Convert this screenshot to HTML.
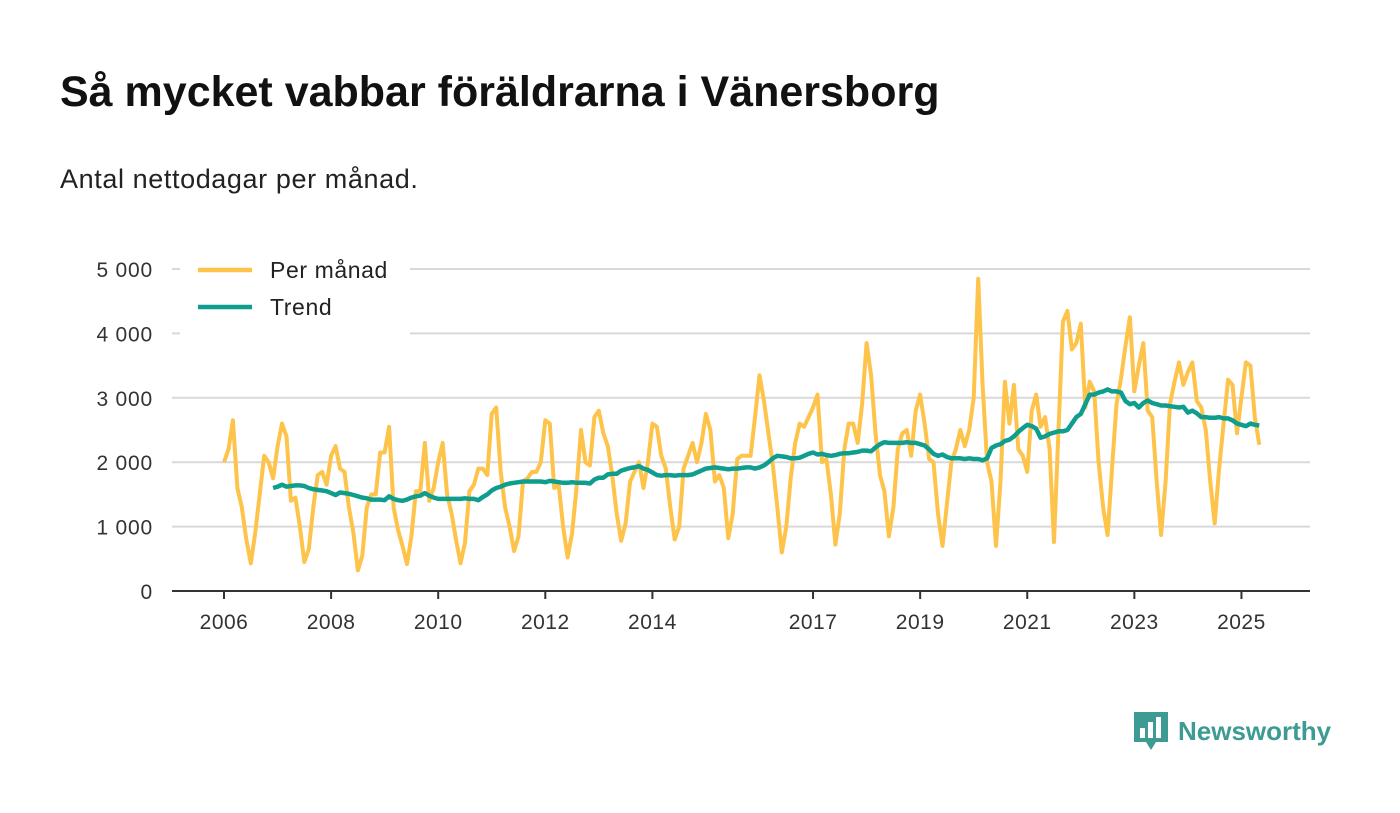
<!DOCTYPE html>
<html><head><meta charset="utf-8"><style>
body{margin:0;background:#fff;font-family:"Liberation Sans",sans-serif;}
#wrap{position:relative;width:1400px;height:813px;overflow:hidden}
h1{position:absolute;left:60px;top:68px;margin:0;font-size:43px;font-weight:bold;color:#111;}
.sub{position:absolute;left:60px;top:164px;font-size:27px;letter-spacing:0.6px;color:#222;}
.logo{position:absolute;left:1134px;top:712px;font-size:26px;font-weight:bold;color:#3d9b94;display:flex;align-items:center;gap:10px}
</style></head><body><div id="wrap">
<h1>Så mycket vabbar föräldrarna i Vänersborg</h1>
<div class="sub">Antal nettodagar per månad.</div>
<svg id="chart" width="1400" height="813" style="position:absolute;left:0;top:0"></svg>
<div class="logo"><svg width="34" height="38" viewBox="0 0 34 38"><path d="M0 0H34V30H22L17 38L12 30H0Z" fill="#3d9b94"/><rect x="6" y="16" width="5" height="10" fill="#fff"/><rect x="14" y="10" width="5" height="16" fill="#fff"/><rect x="22" y="5" width="5" height="21" fill="#fff"/></svg><span>Newsworthy</span></div>
</div>
<script>
const yTicks=[0,1000,2000,3000,4000,5000];
const yTickLabels=["0","1 000","2 000","3 000","4 000","5 000"];
const xTickYears=[2006,2008,2010,2012,2014,2017,2019,2021,2023,2025];
const startYear=2006;
const monthly=[
2000,2200,2650,1600,1300,800,430,900,1500,2100,2000,1750,
2250,2600,2400,1400,1450,1000,450,650,1300,1800,1850,1650,
2100,2250,1900,1850,1300,900,320,550,1300,1500,1500,2150,
2150,2550,1300,950,700,420,850,1550,1550,2300,1400,1600,
2000,2300,1500,1200,800,430,750,1550,1650,1900,1900,1800,
2750,2850,1850,1300,1000,620,850,1700,1750,1850,1850,2000,
2650,2600,1600,1650,1000,520,900,1600,2500,2000,1950,2700,
2800,2450,2250,1800,1200,780,1050,1700,1850,2000,1600,2000,
2600,2550,2100,1900,1300,800,1000,1900,2100,2300,2000,2300,
2750,2500,1700,1800,1600,820,1200,2050,2100,2100,2100,2700,
3350,2950,2450,1950,1300,600,1000,1750,2300,2600,2550,2700,
2850,3050,2000,2050,1500,720,1200,2200,2600,2600,2300,2900,
3850,3350,2450,1800,1550,850,1300,2200,2450,2500,2100,2800,
3050,2600,2050,2000,1200,700,1350,2000,2200,2500,2250,2500,
3000,4850,3200,2000,1700,700,1700,3250,2600,3200,2200,2100,
1850,2800,3050,2550,2700,2200,760,2500,4180,4350,3750,3850,
4150,2850,3250,3100,2000,1300,870,1900,2900,3300,3800,4250,
3100,3500,3850,2800,2700,1700,870,1700,2900,3250,3550,3200,
3400,3550,2950,2850,2500,1700,1050,1900,2600,3280,3200,2450,
3000,3550,3500,2700,2270];
const trendStart=11;
const trend=[1600,1620,1650,1620,1630,1640,1640,1630,1600,1580,1570,1560,1550,1520,1490,1530,1520,1510,1490,1470,1450,1440,1420,1420,1420,1410,1470,1430,1410,1400,1420,1450,1470,1480,1520,1480,1450,1430,1430,1430,1430,1430,1430,1440,1430,1430,1410,1460,1500,1560,1600,1620,1650,1670,1680,1690,1700,1700,1700,1700,1700,1690,1710,1700,1690,1680,1680,1690,1680,1680,1680,1670,1730,1760,1760,1810,1820,1820,1870,1890,1910,1920,1940,1900,1880,1840,1800,1790,1800,1800,1790,1800,1800,1800,1810,1840,1870,1900,1910,1920,1910,1900,1890,1900,1900,1910,1920,1920,1900,1920,1950,2000,2060,2100,2090,2080,2060,2060,2070,2100,2130,2150,2120,2130,2110,2100,2110,2130,2140,2140,2150,2160,2180,2180,2170,2230,2280,2310,2300,2300,2300,2300,2310,2300,2300,2280,2260,2200,2130,2100,2120,2080,2060,2060,2060,2050,2060,2050,2050,2030,2060,2220,2260,2280,2330,2350,2400,2470,2530,2580,2560,2520,2380,2400,2440,2460,2480,2480,2500,2600,2700,2750,2900,3050,3050,3080,3100,3130,3100,3100,3080,2950,2900,2920,2850,2920,2960,2920,2900,2880,2880,2870,2860,2850,2860,2770,2800,2760,2700,2700,2690,2690,2700,2680,2680,2650,2600,2580,2560,2600,2580,2570];
const NS="http://www.w3.org/2000/svg";
const svg=document.getElementById('chart');
const x0=172,x1=1310,y0=591,yTop=269;
function xm(i){return 224+i*(53.55/12);}
function xy(yr){return 224+(yr-startYear)*53.55;}
function ys(v){return y0-(v/5000)*(y0-yTop);}
function mk(t,a){const e=document.createElementNS(NS,t);for(const k in a)e.setAttribute(k,a[k]);svg.appendChild(e);return e;}
yTicks.forEach((v,i)=>{
 if(v>0){const g=mk('line',{x1:x0,x2:x1,y1:ys(v),y2:ys(v),stroke:'#d9d9d9','stroke-width':2});
 
 }
 const t=mk('text',{x:153,y:ys(v)+8,'text-anchor':'end','font-size':21,'letter-spacing':'0.8',fill:'#333'});
 t.textContent=yTickLabels[i];
 
 
});
const ax=mk('line',{x1:x0,x2:x1,y1:y0,y2:y0,stroke:'#333','stroke-width':2});


xTickYears.forEach(yr=>{
 const tk=mk('line',{x1:xy(yr),x2:xy(yr),y1:y0,y2:y0+8,stroke:'#333','stroke-width':2});
 
 
 const t=mk('text',{x:xy(yr),y:629,'text-anchor':'middle','font-size':21,'letter-spacing':'0.5',fill:'#333'});
 t.textContent=yr;
 
 
});
const lb=mk('rect',{x:180,y:250,width:230,height:85,fill:'#fff'});


const p1=mk('path',{d:monthly.map((v,i)=>(i?'L':'M')+xm(i).toFixed(1)+' '+ys(v).toFixed(1)).join(''),fill:'none',stroke:'#fec34a','stroke-width':4,'stroke-linejoin':'round'});


const p2=mk('path',{d:trend.map((v,i)=>(i?'L':'M')+xm(i+trendStart).toFixed(1)+' '+ys(v).toFixed(1)).join(''),fill:'none',stroke:'#0f9e8e','stroke-width':4.5,'stroke-linejoin':'round'});


[['Per månad','#fec34a',270],['Trend','#0f9e8e',307]].forEach(([n,c,y])=>{
 const l=mk('line',{x1:198,x2:252,y1:y,y2:y,stroke:c,'stroke-width':4.5});
 
 
 const t=mk('text',{x:270,y:y+8,'font-size':23,'letter-spacing':'0.6',fill:'#222'});
 t.textContent=n;
 
 
});
</script></body></html>
